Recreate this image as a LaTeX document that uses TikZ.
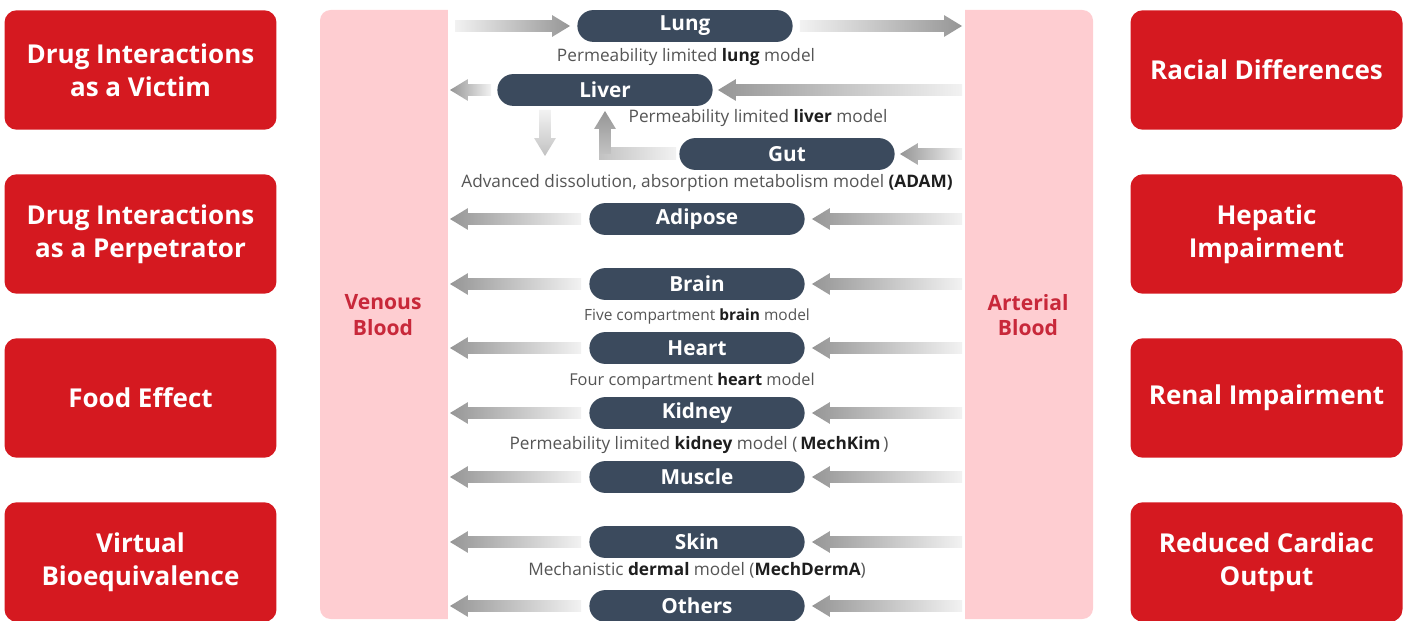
\documentclass[tikz,border=0pt]{standalone}
\usepackage{fontspec}
\setmainfont{Open Sans}
\usetikzlibrary{calc,positioning}

\definecolor{boxred}{HTML}{D51920}
\definecolor{bandpink}{HTML}{FECDD1}
\definecolor{pill}{HTML}{3B4A5D}
\definecolor{bloodred}{HTML}{C8283A}
\definecolor{captxt}{HTML}{555555}
\definecolor{capbold}{HTML}{1E1E1E}
\definecolor{arrowhead}{HTML}{969696}
\definecolor{arrowmid}{HTML}{C2C2C2}
\definecolor{arrowtail}{HTML}{F2F2F2}

\newcommand{\bw}[1]{\textbf{\color{capbold}#1}}

\begin{document}
\begin{tikzpicture}[x=0.02cm, y=-0.02cm,
    task/.style   ={rectangle, fill=boxred, rounded corners=7pt, minimum width=154.8pt, minimum height=68pt, text=white, align=center, font=\fontsize{14.8}{19}\selectfont\bfseries},
    organ/.style  ={rectangle, fill=pill, rounded corners=9pt, minimum width=122.5pt, minimum height=18.1pt, inner sep=0, text=white, font=\fontsize{11.8}{13}\selectfont\bfseries},
    caption/.style={inner sep=0, text=captxt, font=\fontsize{9.8}{11}\selectfont},
    blood/.style  ={inner sep=0, align=center, text=bloodred, font=\fontsize{12}{14.5}\selectfont\bfseries},
    flow/.style   ={to path={
        ($(\tikztostart)!3.4pt!90:(\tikztotarget)$)
        -- ($(\tikztotarget)!10.2pt!(\tikztostart)!3.4pt!-90:(\tikztostart)$)
        -- ($(\tikztotarget)!10.2pt!(\tikztostart)!6.2pt!-90:(\tikztostart)$)
        -- (\tikztotarget)
        -- ($(\tikztotarget)!10.2pt!(\tikztostart)!6.2pt!90:(\tikztostart)$)
        -- ($(\tikztotarget)!10.2pt!(\tikztostart)!3.4pt!90:(\tikztostart)$)
        -- ($(\tikztostart)!3.4pt!-90:(\tikztotarget)$) -- cycle}},
    toL/.style    ={flow, top color=arrowhead, bottom color=arrowtail, shading angle=90},
    toR/.style    ={flow, top color=arrowhead, bottom color=arrowtail, shading angle=-90},
    toU/.style    ={flow, top color=arrowhead, bottom color=arrowmid, shading angle=0},
    toD/.style    ={flow, top color=arrowmid, bottom color=arrowtail, shading angle=180}]

  \useasboundingbox (0,0) rectangle (1410,621);

  % blood compartments
  \fill[bandpink, rounded corners=6pt] (320,10) rectangle (1093,619);
  \fill[white] (448,0) rectangle (965,621);
  \node[blood] (venous)   at (383,315)  {Venous\\Blood};
  \node[blood] (arterial) at (1028,315) {Arterial\\Blood};

  % applications
  \foreach \name/\yy/\txt in {victim/70/{Drug Interactions\\as a Victim},
                              perp/234/{Drug Interactions\\as a Perpetrator},
                              food/398/{Food Effect},
                              bioeq/562/{Virtual\\Bioequivalence}}
    \node[task] (\name) at (140.5,\yy) {\txt};
  \foreach \name/\yy/\txt in {racial/70/{Racial Differences},
                              hepatic/234/{Hepatic\\Impairment},
                              renal/398/{Renal Impairment},
                              cardiac/562/{Reduced Cardiac\\Output}}
    \node[task] (\name) at (1266.5,\yy) {\txt};

  % lung, liver, gut
  \node[organ] (Lung)  at (685,26)  {Lung};
  \node[organ] (Liver) at (605,90)  {Liver};
  \node[organ] (Gut)   at (787,154) {Gut};
  \node[caption] (lungcap)  at (686,57)  {Permeability limited \bw{lung} model};
  \node[caption] (livercap) at (758,118) {Permeability limited \bw{liver} model};
  \node[caption] (gutcap)   at (707,183) {Advanced dissolution, absorption metabolism model \bw{(ADAM)}};

  \coordinate (vLung) at (455,26);
  \coordinate (wLung) at ($(Lung.west)+(-7,0)$);
  \coordinate (eLung) at ($(Lung.east)+(7,0)$);
  \coordinate (aLung) at (962,26);
  \path[toR] (vLung) to (wLung);
  \path[toR] (eLung) to (aLung);

  \coordinate (wLiver) at ($(Liver.west)+(-6,0)$);
  \coordinate (vLiver) at (450,90);
  \coordinate (eLiver) at ($(Liver.east)+(5,0)$);
  \coordinate (aLiver) at (962,90);
  \path[toL] (wLiver) to (vLiver);
  \path[toL] (aLiver) to (eLiver);

  \coordinate (sLiver) at (545,110);
  \coordinate (dLiver) at (545,156);
  \path[toD] (sLiver) to (dLiver);

  \coordinate (eGut) at ($(Gut.east)+(5,0)$);
  \coordinate (aGut) at (962,154);
  \coordinate (wGut) at ($(Gut.west)+(-3,0)$);
  \coordinate (bend) at (605,154);
  \coordinate (uLiver) at (605,111);
  \path[toL] (aGut) to (eGut);
  \shade[left color=arrowmid, right color=arrowtail] ($(bend)+(-6,-6)$) rectangle ($(wGut)+(0,6)$);
  \path[toU] (bend) to (uLiver);

  % other tissues
  \foreach \organ/\yy in {Adipose/219, Brain/284, Heart/348, Kidney/413, Muscle/477, Skin/542, Others/606}{
    \node[organ] (\organ) at (697,\yy) {\organ};
    \coordinate (v\organ) at (450,\yy);
    \coordinate (w\organ) at ($(\organ.west)+(-8,0)$);
    \coordinate (e\organ) at ($(\organ.east)+(7,0)$);
    \coordinate (a\organ) at (962,\yy);
    \path[toL] (w\organ) to (v\organ);
    \path[toL] (a\organ) to (e\organ);
  }
  \node[caption, font=\fontsize{8.8}{10}\selectfont] (braincap) at (697,316) {Five compartment \bw{brain} model};
  \node[caption, font=\fontsize{9.3}{10}\selectfont] (heartcap) at (692,381) {Four compartment \bw{heart} model};
  \node[caption] (kidneycap) at (699,445) {Permeability limited \bw{kidney} model (\,\bw{MechKim}\,)};
  \node[caption] (skincap)   at (697,570) {Mechanistic \bw{dermal} model (\bw{MechDermA})};
\end{tikzpicture}
\end{document}
